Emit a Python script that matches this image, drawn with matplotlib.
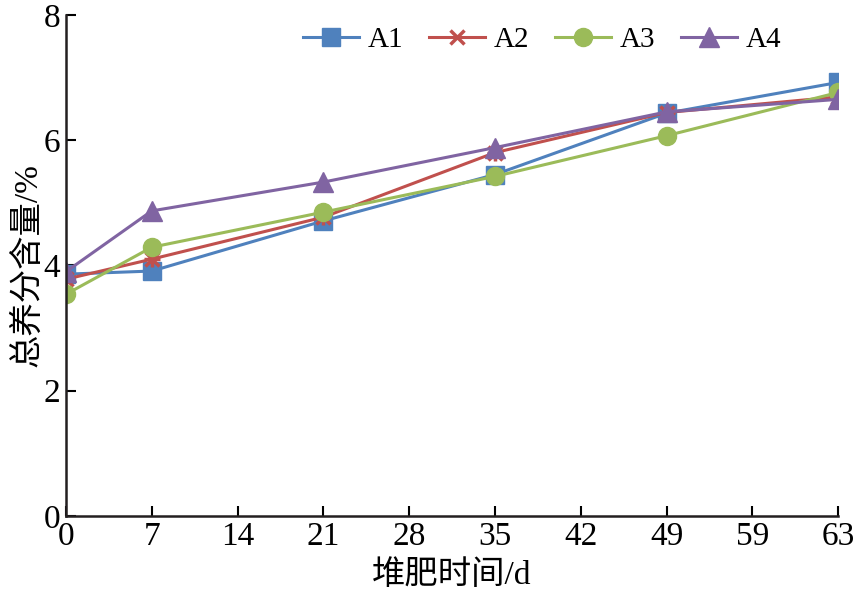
import matplotlib
matplotlib.use("Agg")
import matplotlib.pyplot as plt

# Composting time (d) and total nutrient content (%)
days = [0, 7, 21, 35, 49, 63]
a1 = [3.86, 3.91, 4.71, 5.45, 6.43, 6.92]
a2 = [3.78, 4.10, 4.77, 5.80, 6.44, 6.69]
a3 = [3.54, 4.29, 4.85, 5.42, 6.07, 6.76]
a4 = [3.90, 4.87, 5.33, 5.88, 6.45, 6.65]

xticks = [0, 7, 14, 21, 28, 35, 42, 49, 56, 63]
xtick_labels = ["0", "7", "14", "21", "28", "35", "42", "49", "59", "63"]
yticks = [0, 2, 4, 6, 8]

plt.rcParams['font.family'] = ['Liberation Serif', 'Noto Sans CJK SC']

fig = plt.figure(figsize=(8.57, 6.01), dpi=100)
ax = fig.add_axes([0.077, 0.1414, 0.901, 0.834])

ax.plot(days, a1, "-s", color="#4F81BD", lw=2.2, ms=13, label="A1")
ax.plot(days, a2, "-x", color="#C0504D", lw=2.2, ms=10, mew=2.5, label="A2")
ax.plot(days, a2, "+", color="#C0504D", ms=12, mew=2.5)
ax.plot(days, a3, "-o", color="#9BBB59", lw=2.2, ms=13, label="A3")
ax.plot(days, a4, "-^", color="#8064A2", lw=2.2, ms=14, label="A4")

ax.set_xlim(0, 63)
ax.set_ylim(0, 8)
ax.set_xticks(xticks)
ax.set_xticklabels(xtick_labels)
ax.set_yticks(yticks)
ax.tick_params(direction="in", length=7, width=1.5, labelsize=24, pad=4)
for side in ["top", "right"]:
    ax.spines[side].set_visible(False)
for side in ["left", "bottom"]:
    ax.spines[side].set_linewidth(1.8)
    ax.spines[side].set_color("#231f20")

ax.set_xlabel("堆肥时间/d", fontsize=24, labelpad=6)
ax.set_ylabel("总养分含量/%", fontsize=24, labelpad=0)

ax.legend(loc="upper right", bbox_to_anchor=(0.96, 1.028), ncol=4, frameon=False,
          fontsize=21, handlelength=1.9, handletextpad=0.3, columnspacing=0.9)

fig.savefig("out.png", dpi=100)
